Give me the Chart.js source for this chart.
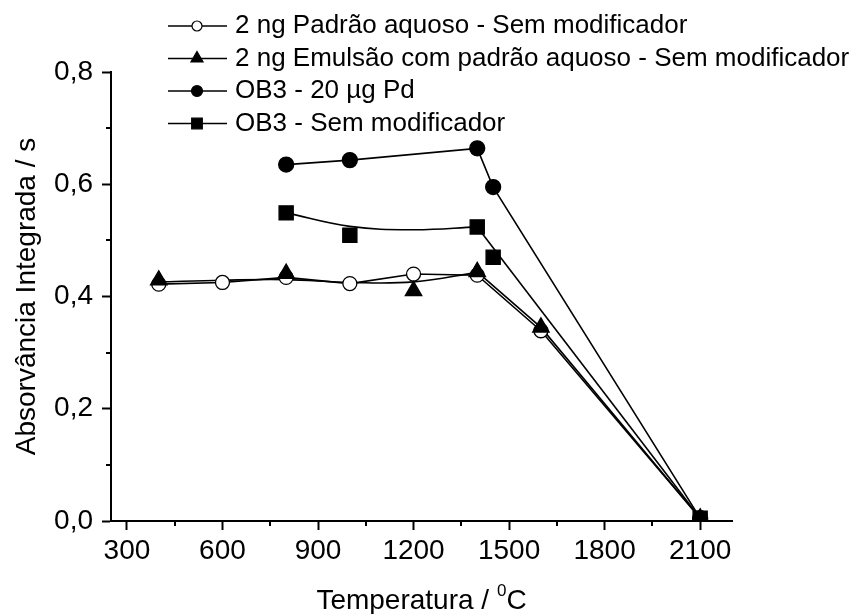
<!DOCTYPE html>
<html>
<head>
<meta charset="utf-8">
<script src="https://cdn.jsdelivr.net/npm/chart.js@4/dist/chart.umd.min.js"></script>
<style>
  html, body { margin: 0; padding: 0; background: #fff; }
</style>
</head>
<body>
<canvas id="myCanvas" width="852" height="614"></canvas>
<script>
const seriesNames = [
  "2 ng Padrão aquoso - Sem modificador",
  "2 ng Emulsão com padrão aquoso - Sem modificador",
  "OB3 - 20 µg Pd",
  "OB3 - Sem modificador",
]

// valores (Temperatura / °C, Absorvância integrada / s)
const padraoTemp = [400, 600, 800, 1000, 1200, 1400, 1600, 2100]
const padraoAbs = [0.422, 0.425, 0.434, 0.423, 0.44, 0.438, 0.339, 0.005]

const emulsaoTemp = [400, 800, 1200, 1400, 1600, 2100]
const emulsaoAbs = [0.429, 0.441, 0.41, 0.444, 0.345, 0.005]
// curva suavizada do Origin entre 400 e 1400
const emulsaoCurveTemp = [400, 600, 800, 1000, 1200, 1400]
const emulsaoCurveAbs = [0.426, 0.429, 0.43, 0.425, 0.426, 0.443]

const pdTemp = [800, 1000, 1400, 1450, 2100]
const pdAbs = [0.635, 0.643, 0.664, 0.595, 0.005]

const ob3Temp = [800, 1000, 1400, 1450, 2100]
const ob3Abs = [0.549, 0.509, 0.524, 0.47, 0.005]
// curva suavizada 800-1400 e reta 1400-2100
const ob3CurveTemp = [800, 1000, 1200, 1400]
const ob3CurveAbs = [0.549, 0.525, 0.519, 0.524]
const ob3LineTemp = [1400, 2100]
const ob3LineAbs = [0.524, 0.005]

const xTicks = [300, 600, 900, 1200, 1500, 1800, 2100]
const xMinorTicks = [450, 750, 1050, 1350, 1650, 1950]
const yTicks = [0, 0.2, 0.4, 0.6, 0.8]
const yMinorTicks = [0.1, 0.3, 0.5, 0.7]

function toPoints(xs, ys) {
  return xs.map((x, i) => ({ x: x, y: ys[i] }))
}

const FONT = "'Liberation Sans', Arial, sans-serif"
Chart.defaults.font.family = FONT
Chart.defaults.color = "#000"

function markers(xs, ys, style, radius, bg) {
  return {
    data: toPoints(xs, ys),
    showLine: false,
    pointStyle: style,
    pointRadius: radius,
    pointHoverRadius: radius,
    pointBackgroundColor: bg,
    pointBorderColor: "#000",
    pointBorderWidth: 1.3,
    order: 1,
  }
}

function line(xs, ys, tension) {
  return {
    data: toPoints(xs, ys),
    showLine: true,
    borderColor: "#000",
    borderWidth: 1.6,
    pointRadius: 0,
    pointHoverRadius: 0,
    tension: tension,
    fill: false,
    order: 2,
  }
}

const legendStyles = [
  { style: "circle", radius: 5, bg: "#fff" },
  { style: "triangle", radius: 7, bg: "#000" },
  { style: "circle", radius: 5.5, bg: "#000" },
  { style: "rect", radius: 7.5, bg: "#000" },
]

const extras = {
  id: "extras",
  afterDraw(chart) {
    const ctx = chart.ctx
    const x = chart.scales.x
    const y = chart.scales.y
    ctx.save()
    ctx.strokeStyle = "#000"
    ctx.lineWidth = 2
    // ticks menores
    xMinorTicks.forEach((v) => {
      const px = Math.round(x.getPixelForValue(v))
      ctx.beginPath()
      ctx.moveTo(px, x.top)
      ctx.lineTo(px, x.top + 5)
      ctx.stroke()
    })
    yMinorTicks.forEach((v) => {
      const py = Math.round(y.getPixelForValue(v))
      ctx.beginPath()
      ctx.moveTo(y.right, py)
      ctx.lineTo(y.right - 5, py)
      ctx.stroke()
    })

    // legenda
    seriesNames.forEach((name, i) => {
      const ly = 26 + i * 32.5
      ctx.lineWidth = 1.6
      ctx.beginPath()
      ctx.moveTo(168, ly)
      ctx.lineTo(227, ly)
      ctx.stroke()
      const s = legendStyles[i]
      ctx.fillStyle = s.bg
      ctx.lineWidth = 1.2
      Chart.helpers.drawPoint(ctx, { pointStyle: s.style, radius: s.radius, rotation: 0, borderWidth: 1.2 }, 197, ly)
      ctx.fillStyle = "#000"
      ctx.font = "26px " + FONT
      ctx.textBaseline = "middle"
      ctx.textAlign = "left"
      ctx.fillText(name, 235, ly)
    })

    // titulo do eixo x com sobrescrito
    const cx = (chart.chartArea.left + chart.chartArea.right) / 2
    const ty = 599
    ctx.font = "28px " + FONT
    const a = "Temperatura / "
    const wa = ctx.measureText(a).width
    const wc = ctx.measureText("C").width
    ctx.font = "17px " + FONT
    const w0 = ctx.measureText("0").width
    let sx = cx - (wa + w0 + wc) / 2
    ctx.textBaseline = "alphabetic"
    ctx.font = "28px " + FONT
    ctx.fillText(a, sx, ty + 10)
    ctx.font = "17px " + FONT
    ctx.fillText("0", sx + wa, ty - 3)
    ctx.font = "28px " + FONT
    ctx.fillText("C", sx + wa + w0, ty + 10)
    ctx.restore()
  },
}

const ctx = document.getElementById("myCanvas").getContext("2d")

// indice menor = desenhado por cima (a ultima serie fica no topo)
new Chart(ctx, {
  type: "scatter",
  data: {
    datasets: [
      markers(ob3Temp, ob3Abs, "rect", 10, "#000"),
      markers(pdTemp, pdAbs, "circle", 7.5, "#000"),
      markers(emulsaoTemp, emulsaoAbs, "triangle", 9.5, "#000"),
      markers(padraoTemp, padraoAbs, "circle", 7, "#fff"),
      line(padraoTemp, padraoAbs, 0),
      line(emulsaoCurveTemp, emulsaoCurveAbs, 0.4),
      line(emulsaoTemp.slice(3), emulsaoAbs.slice(3), 0),
      line(pdTemp, pdAbs, 0),
      line(ob3CurveTemp, ob3CurveAbs, 0.4),
      line(ob3LineTemp, ob3LineAbs, 0),
    ],
  },
  options: {
    responsive: false,
    animation: false,
    layout: { padding: { top: 72, right: 120, bottom: 0, left: 0 } },
    plugins: {
      legend: { display: false },
      tooltip: { enabled: false },
    },
    scales: {
      x: {
        type: "linear",
        min: 250,
        max: 2200,
        afterBuildTicks: (scale) => {
          scale.ticks = xTicks.map((v) => ({ value: v }))
        },
        afterFit: (scale) => {
          scale.height = 93
        },
        border: { color: "#000", width: 2 },
        grid: { drawOnChartArea: false, tickLength: 9, tickWidth: 2, tickColor: "#000" },
        ticks: {
          font: { size: 28, lineHeight: 1 },
          padding: 7,
          maxRotation: 0,
          callback: (v) => String(v),
        },
      },
      y: {
        min: 0,
        max: 0.8,
        afterBuildTicks: (scale) => {
          scale.ticks = yTicks.map((v) => ({ value: v }))
        },
        afterFit: (scale) => {
          scale.width = 111
        },
        border: { color: "#000", width: 2 },
        grid: { drawOnChartArea: false, tickLength: 9, tickWidth: 2, tickColor: "#000" },
        ticks: {
          font: { size: 28, lineHeight: 1 },
          padding: 9,
          callback: (v) => v.toFixed(1).replace(".", ","),
        },
        title: {
          display: true,
          text: "Absorvância Integrada / s",
          font: { size: 28, lineHeight: 1 },
          padding: { top: 13, bottom: 0 },
        },
      },
    },
  },
  plugins: [extras],
})
</script>
</body>
</html>
